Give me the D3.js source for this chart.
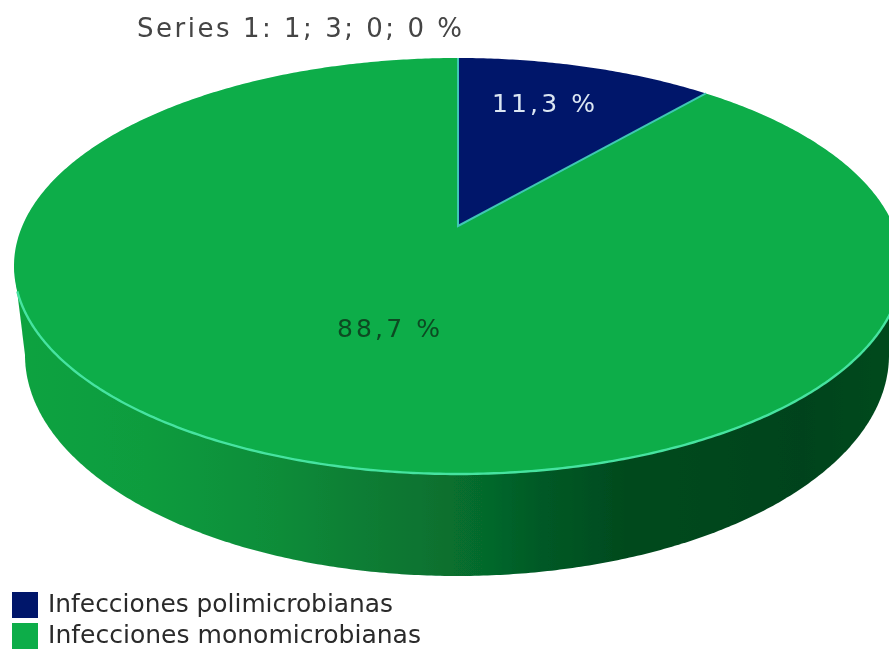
<!DOCTYPE html>
<html>
<head>
<meta charset="utf-8">
<script src="https://cdn.jsdelivr.net/npm/d3@7"></script>
<style>
  html, body { margin: 0; padding: 0; background: #fff; overflow: hidden; }
  text { font-family: "DejaVu Sans", sans-serif; }
</style>
</head>
<body>
<div id="chart"></div>
<script>
const categories = ["Infecciones polimicrobianas", "Infecciones monomicrobianas"];
const values = [11.3, 88.7];
const valueLabels = ["11,3 %", "88,7 %"];
const colors = ["#04166a", "#08ad48"];
const title = "Series 1: 1; 3; 0; 0 %";

const width = 889, height = 649;

// perspective disk, apex of the slices is not the middle of the ellipse
const apexX = 458, apexY = 226;
const scaleX = 435.7, scaleY = 200.3, tilt = 0.1923;

function project(a) {
    const u = Math.sin(a), v = Math.cos(a), w = 1 + tilt * v;
    return [apexX + scaleX * u / w, apexY - scaleY * v / w];
}

const line = d3.line();

function rimPoints(a0, a1) {
    const n = Math.max(2, Math.ceil(Math.abs(a1 - a0) / 0.01));
    return d3.range(n + 1).map(i => project(a0 + (a1 - a0) * i / n));
}

const svg = d3.select("#chart").append("svg")
    .attr("width", width)
    .attr("height", height);

const defs = svg.append("defs");
const grad = defs.append("linearGradient")
    .attr("id", "side")
    .attr("gradientUnits", "userSpaceOnUse")
    .attr("x1", 14).attr("x2", 900).attr("y1", 0).attr("y2", 0);
[[0, "#0ba341"], [0.15, "#0a9c3e"], [0.3, "#098c39"], [0.38, "#0a7f35"], [0.53, "#066a2c"],
 [0.59, "#055a26"], [0.69, "#044a1e"], [0.89, "#04431b"], [1, "#044a1e"]]
    .forEach(s => grad.append("stop").attr("offset", s[0]).attr("stop-color", s[1]));
defs.append("filter").attr("id", "soft")
    .append("feGaussianBlur").attr("stdDeviation", 0.7);
defs.append("filter").attr("id", "softText")
    .append("feGaussianBlur").attr("stdDeviation", 0.45);

const pie3d = svg.append("g").attr("filter", "url(#soft)");

// side wall: lower ellipse plus the strip joining it to the top disk
const lowX = 457, lowY = 355, lowRx = 432, lowRy = 221;
const lowPts = d3.range(0, 629).map(i => {
    const a = i / 100;
    return [lowX + lowRx * Math.cos(a), lowY + lowRy * Math.sin(a)];
});
pie3d.append("path")
    .attr("d", line(lowPts) + "Z")
    .attr("fill", "url(#side)");
pie3d.append("path")
    .attr("d", line([[14, 266], [902, 266], [lowX + lowRx, lowY], [lowX - lowRx, lowY]]) + "Z")
    .attr("fill", "url(#side)");

// slices
const pie = d3.pie().sort(null)(values);

pie3d.selectAll("path.slice")
    .data(pie)
    .enter().append("path")
    .attr("class", "slice")
    .attr("d", d => line([[apexX, apexY]].concat(rimPoints(d.startAngle, d.endAngle))) + "Z")
    .attr("fill", (d, i) => colors[i]);

// light lines on the slice edges and on the front rim
pie3d.append("path")
    .attr("d", line([project(pie[0].endAngle), [apexX, apexY], project(0)]))
    .attr("fill", "none")
    .attr("stroke", "#3fc7b4")
    .attr("stroke-width", 2);
pie3d.append("path")
    .attr("d", line(rimPoints(1.89, 4.40)))
    .attr("fill", "none")
    .attr("stroke", "#46e3a0")
    .attr("stroke-width", 2.4);

// texts
const texts = svg.append("g").attr("filter", "url(#softText)");

texts.append("text")
    .attr("x", 137).attr("y", 37)
    .attr("font-size", 26)
    .attr("textLength", 325)
    .attr("fill", "#444")
    .text(title);

const labelPos = [[492, 112], [337, 337]];
const labelFill = ["#dbe6f2", "#0b4a22"];
texts.selectAll("text.val")
    .data(valueLabels)
    .enter().append("text")
    .attr("class", "val")
    .attr("x", (d, i) => labelPos[i][0])
    .attr("y", (d, i) => labelPos[i][1])
    .attr("font-size", 25)
    .attr("textLength", 103)
    .attr("fill", (d, i) => labelFill[i])
    .text(d => d);

// legend
const legendY = d3.scaleBand().domain(categories).range([590, 652]);
const legend = texts.selectAll("g.legend")
    .data(categories)
    .enter().append("g")
    .attr("class", "legend")
    .attr("transform", d => `translate(0,${legendY(d)})`);
legend.append("rect")
    .attr("x", 12).attr("y", 2)
    .attr("width", 26).attr("height", 26)
    .attr("fill", (d, i) => colors[i]);
legend.append("text")
    .attr("x", 48).attr("y", 22)
    .attr("font-size", 24)
    .attr("textLength", (d, i) => i === 0 ? 345 : 373)
    .attr("lengthAdjust", "spacingAndGlyphs")
    .attr("fill", "#2a2a2a")
    .text(d => d);
</script>
</body>
</html>
